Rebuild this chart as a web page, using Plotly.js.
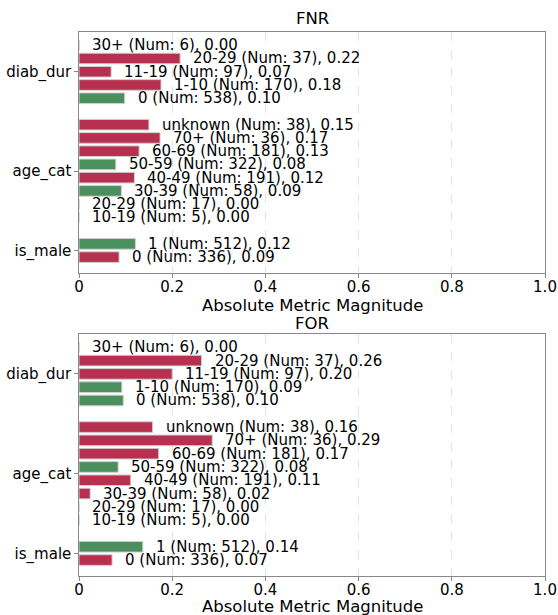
<!DOCTYPE html>
<html>
<head>
<meta charset="utf-8">
<script src="https://cdn.plot.ly/plotly-3.0.1.min.js"></script>
<style>html,body{margin:0;padding:0;background:#fff;}#chart{width:558px;height:615px;}</style>
</head>
<body>
<div id="chart"></div>
<script>
// Bar order from top to bottom within each group
const groups = ["diab_dur", "age_cat", "is_male"];
const groupLevels = {
  diab_dur: ["30+", "20-29", "11-19", "1-10", "0"],
  age_cat: ["unknown", "70+", "60-69", "50-59", "40-49", "30-39", "20-29", "10-19"],
  is_male: ["1", "0"]
};
const groupCounts = {
  diab_dur: [6, 37, 97, 170, 538],
  age_cat: [38, 36, 181, 322, 191, 58, 17, 5],
  is_male: [512, 336]
};
// FNR values
const fnrValues = {
  diab_dur: [0.00, 0.217, 0.069, 0.176, 0.098],
  age_cat: [0.150, 0.174, 0.129, 0.079, 0.119, 0.091, 0.00, 0.00],
  is_male: [0.121, 0.086]
};
const fnrLabels = {
  diab_dur: ["0.00", "0.22", "0.07", "0.18", "0.10"],
  age_cat: ["0.15", "0.17", "0.13", "0.08", "0.12", "0.09", "0.00", "0.00"],
  is_male: ["0.12", "0.09"]
};
// true = flagged (red), false = reference (green)
const fnrFlag = {
  diab_dur: [true, true, true, true, false],
  age_cat: [true, true, true, false, true, false, true, true],
  is_male: [false, true]
};
// FOR values
const forValues = {
  diab_dur: [0.00, 0.263, 0.200, 0.092, 0.095],
  age_cat: [0.158, 0.286, 0.171, 0.084, 0.111, 0.024, 0.00, 0.00],
  is_male: [0.137, 0.071]
};
const forLabels = {
  diab_dur: ["0.00", "0.26", "0.20", "0.09", "0.10"],
  age_cat: ["0.16", "0.29", "0.17", "0.08", "0.11", "0.02", "0.00", "0.00"],
  is_male: ["0.14", "0.07"]
};
const forFlag = {
  diab_dur: [true, true, true, false, false],
  age_cat: [true, true, true, false, true, true, true, true],
  is_male: [false, true]
};
const xTicks = [0, 0.2, 0.4, 0.6, 0.8, 1.0];
const xTickText = ["0", "0.2", "0.4", "0.6", "0.8", "1.0"];
const panelTitles = ["FNR", "FOR"];
const xTitle = "Absolute Metric Magnitude";

const RED = "#b8304f", GREEN = "#4a8f5c";
const FONT = "DejaVu Sans";

// positions: bottom group first, with one empty slot between groups
function buildPositions() {
  const pos = {};
  let p = 0;
  const ticks = [], tickText = [];
  [...groups].reverse().forEach(g => {
    const n = groupLevels[g].length;
    pos[g] = [];
    for (let i = 0; i < n; i++) pos[g][n - 1 - i] = p + i;
    ticks.push(p + (n - 1) / 2);
    tickText.push(g);
    p += n + 1;
  });
  return {pos, ticks, tickText};
}
const P = buildPositions();

const traces = [];
const annotations = [];
function addPanel(values, labels, flags, xa, ya) {
  const ys = [], xs = [], cols = [];
  groups.forEach(g => {
    groupLevels[g].forEach((lv, i) => {
      ys.push(P.pos[g][i]);
      xs.push(values[g][i]);
      cols.push(flags[g][i] ? RED : GREEN);
      annotations.push({
        xref: xa, yref: ya, x: values[g][i], y: P.pos[g][i],
        text: lv + " (Num: " + groupCounts[g][i] + "), " + labels[g][i],
        showarrow: false, xanchor: "left", yanchor: "middle",
        xshift: 12, borderpad: 0,
        font: {family: FONT, size: 15, color: "#000"}
      });
    });
  });
  traces.push({
    type: "bar", orientation: "h", x: xs, y: ys,
    xaxis: xa, yaxis: ya,
    width: 0.8,
    marker: {color: cols, line: {color: "#cfcfcf", width: 1}},
    hoverinfo: "skip", showlegend: false
  });
}
addPanel(fnrValues, fnrLabels, fnrFlag, "x", "y");
addPanel(forValues, forLabels, forFlag, "x2", "y2");

// paper y helper: plot area spans 32..576 px
function py(px) { return (576 - px) / 544; }
function titleAnn(text, yPx) {
  return {xref: "paper", yref: "paper", x: 0.5, y: py(yPx), xanchor: "center", yanchor: "middle",
    text: text, showarrow: false, font: {family: FONT, size: 16.5, color: "#000"}};
}
annotations.push(titleAnn(panelTitles[0], 19));
annotations.push(titleAnn(xTitle, 305));
annotations.push(titleAnn(panelTitles[1], 323));
annotations.push(titleAnn(xTitle, 606));

function xaxis(anchor) {
  return {
    anchor: anchor, domain: [0, 1], range: [0, 1], tickvals: xTicks, ticktext: xTickText,
    showgrid: true, gridcolor: "#dcdcdc", griddash: "dash", gridwidth: 0.8,
    zeroline: false, showline: true, mirror: true, linecolor: "#888", linewidth: 1.2,
    ticks: "outside", ticklen: 3.5, tickcolor: "#888", ticklabelstandoff: -4,
    tickfont: {family: FONT, size: 15, color: "#000"}
  };
}
function yaxis(anchor, domain) {
  return {
    anchor: anchor, domain: domain, range: [-1.2, 17.0],
    tickvals: P.ticks, ticktext: P.tickText,
    showgrid: false, zeroline: false, showline: true, mirror: true, linecolor: "#888", linewidth: 1.2,
    ticks: "outside", ticklen: 3.5, tickcolor: "#888",
    tickfont: {family: FONT, size: 15, color: "#000"}
  };
}

const layout = {
  width: 558, height: 615,
  margin: {l: 79, r: 13, t: 32, b: 39},
  paper_bgcolor: "#fff", plot_bgcolor: "#fff",
  xaxis: xaxis("y"),
  yaxis: yaxis("x", [py(273), 1]),
  xaxis2: xaxis("y2"),
  yaxis2: yaxis("x2", [0, py(334)]),
  annotations: annotations
};

Plotly.newPlot("chart", traces, layout, {staticPlot: true, displayModeBar: false});
</script>
</body>
</html>
